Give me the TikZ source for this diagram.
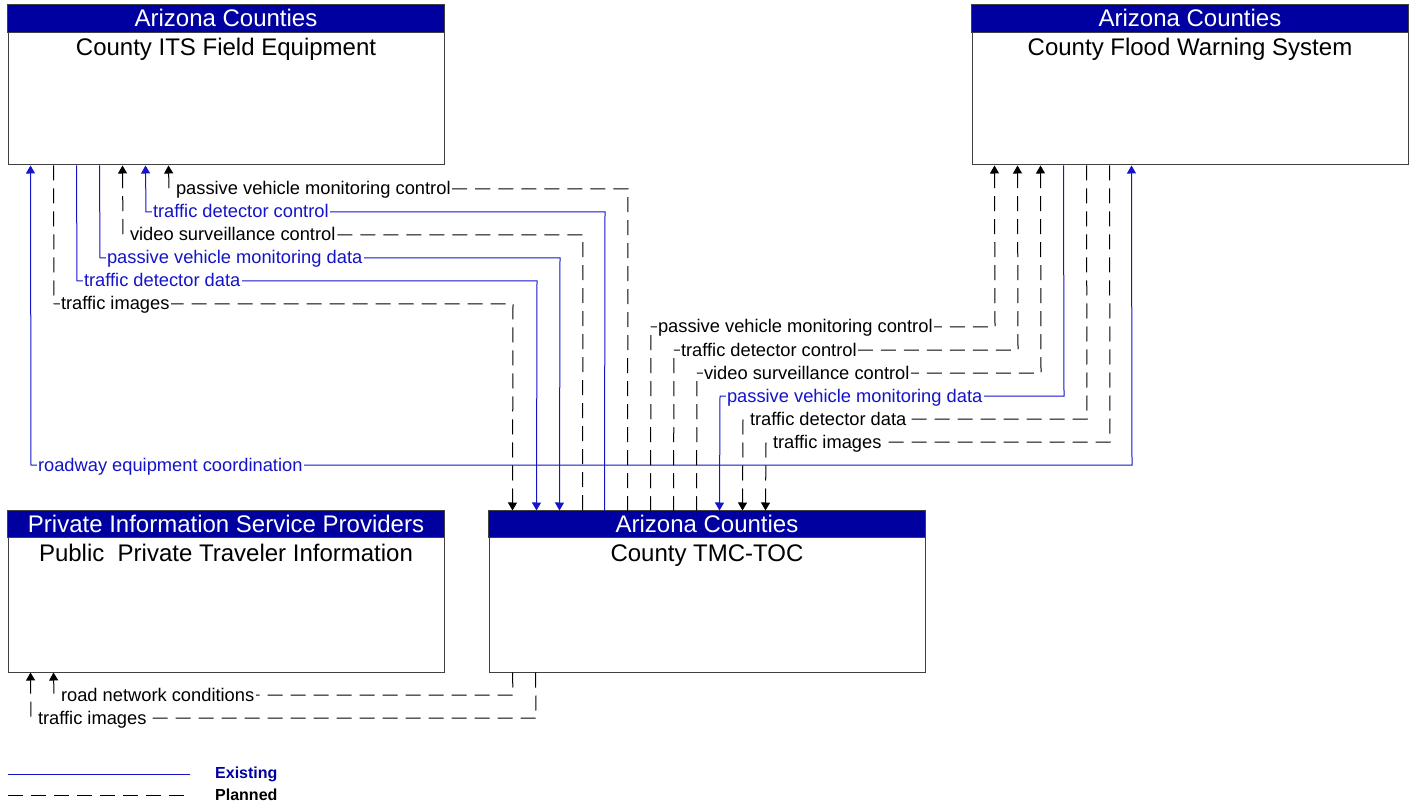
\documentclass[tikz,border=0pt]{standalone}
\usepackage{fontspec}
\setmainfont{Liberation Sans}
\usetikzlibrary{arrows.meta}
\definecolor{hdrblue}{RGB}{0,0,160}
\definecolor{exblue}{RGB}{20,20,200}
\tikzset{
 box/.style={draw=black!75, line width=1pt, minimum width=436pt, inner sep=0pt},
 hdr/.style={fill=hdrblue, draw=black!75, line width=1pt},
 hdrtxt/.style={text=white, font=\fontsize{24}{26}\selectfont, inner sep=0pt, anchor=base},
 ttl/.style={font=\fontsize{24}{26}\selectfont, inner sep=0pt, anchor=base},
 exist/.style={draw=exblue, line width=1pt},
 plan/.style={draw=black, line width=1pt, dash pattern=on 15pt off 8pt},
 lbl/.style={anchor=base west, fill=white, inner xsep=1.5pt, inner ysep=0pt, font=\fontsize{18.3}{20}\selectfont, xshift=5pt, yshift=-6pt},
 elbl/.style={lbl, text=exblue},
 lgd/.style={anchor=west, inner sep=0pt, font=\bfseries\fontsize{16}{18}\selectfont},
}
\begin{document}
\begin{tikzpicture}[x=1pt,y=-1pt,>={Triangle[length=8pt,width=9pt]}]
\useasboundingbox (0,0) rectangle (1419,810);
% boxes
\node[box, minimum height=160pt] (its) at (226,85) {};
\node[box, minimum height=160pt] (fws) at (1190,85) {};
\node[box, minimum height=161pt] (pisp) at (226,591.5) {};
\node[box, minimum height=161pt] (tmc) at (707,591.5) {};
\draw[hdr] (its.north west) rectangle ([yshift=-28pt]its.north east);
\draw[hdr] (fws.north west) rectangle ([yshift=-28pt]fws.north east);
\draw[hdr] (pisp.north west) rectangle ([yshift=-27pt]pisp.north east);
\draw[hdr] (tmc.north west) rectangle ([yshift=-27pt]tmc.north east);
\node[hdrtxt] (itsh) at ([yshift=-22pt]its.north) {Arizona Counties};
\node[ttl] (itst) at ([yshift=-51pt]its.north) {County ITS Field Equipment};
\node[hdrtxt] (fwsh) at ([yshift=-22pt]fws.north) {Arizona Counties};
\node[ttl] (fwst) at ([yshift=-51pt]fws.north) {County Flood Warning System};
\node[hdrtxt] (pisph) at ([yshift=-22pt]pisp.north) {Private Information Service Providers};
\node[ttl] (pispt) at ([yshift=-51pt]pisp.north) {Public\ \ Private Traveler Information};
\node[hdrtxt] (tmch) at ([yshift=-22pt]tmc.north) {Arizona Counties};
\node[ttl] (tmct) at ([yshift=-51pt]tmc.north) {County TMC-TOC};
% ITS <-> TMC / Flood
\draw[exist,<->] ([xshift=23pt]its.south west) -- (31,465) node[elbl]{roadway equipment coordination} -- (1132,465) -- ([xshift=160pt]fws.south west);
\draw[plan,->] ([xshift=46pt]its.south west) -- (54,304) node[lbl]{traffic images} -- (513,304) -- ([xshift=24pt]tmc.north west);
\draw[exist,->] ([xshift=69pt]its.south west) -- (77,281) node[elbl]{traffic detector data} -- (537,281) -- ([xshift=48pt]tmc.north west);
\draw[exist,->] ([xshift=92pt]its.south west) -- (100,258) node[elbl]{passive vehicle monitoring data} -- (560,258) -- ([xshift=71pt]tmc.north west);
\draw[plan,<-] ([xshift=115pt]its.south west) -- (123,235) node[lbl]{video surveillance control} -- (583,235) -- ([xshift=94pt]tmc.north west);
\draw[exist,<-] ([xshift=138pt]its.south west) -- (146,212) node[elbl]{traffic detector control} -- (605,212) -- ([xshift=116pt]tmc.north west);
\draw[plan,<-] ([xshift=161pt]its.south west) -- (169,189) node[lbl]{passive vehicle monitoring control} -- (628,189) -- ([xshift=139pt]tmc.north west);
% Flood <-> TMC
\draw[plan,<-] ([xshift=23pt]fws.south west) -- (995,327) -- (651,327) node[lbl]{passive vehicle monitoring control} -- ([xshift=162pt]tmc.north west);
\draw[plan,<-] ([xshift=46pt]fws.south west) -- (1018,350) -- (674,350) node[lbl]{traffic detector control} -- ([xshift=185pt]tmc.north west);
\draw[plan,<-] ([xshift=69pt]fws.south west) -- (1041,373) -- (697,373) node[lbl]{video surveillance control} -- ([xshift=208pt]tmc.north west);
\draw[exist,->] ([xshift=92pt]fws.south west) -- (1064,396) -- (720,396) node[elbl]{passive vehicle monitoring data} -- ([xshift=231pt]tmc.north west);
\draw[plan,->] ([xshift=115pt]fws.south west) -- (1087,419) -- (743,419) node[lbl]{traffic detector data} -- ([xshift=254pt]tmc.north west);
\draw[plan,->] ([xshift=138pt]fws.south west) -- (1110,442) -- (766,442) node[lbl]{traffic images} -- ([xshift=277pt]tmc.north west);
% TMC -> Private
\draw[plan,->] ([xshift=24pt]tmc.south west) -- (513,695) -- (54,695) node[lbl]{road network conditions} -- ([xshift=46pt]pisp.south west);
\draw[plan,->] ([xshift=47pt]tmc.south west) -- (536,718) -- (31,718) node[lbl]{traffic images} -- ([xshift=23pt]pisp.south west);
% legend
\coordinate (l1a) at (8,774); \coordinate (l1b) at (190,774);
\coordinate (l2a) at (8,795); \coordinate (l2b) at (190,795);
\draw[exist] (l1a) -- (l1b);
\draw[plan] (l2a) -- (l2b);
\node[lgd, text=hdrblue] (lgE) at (215,774) {Existing};
\node[lgd] (lgP) at (215,795) {Planned};
\end{tikzpicture}
\end{document}
